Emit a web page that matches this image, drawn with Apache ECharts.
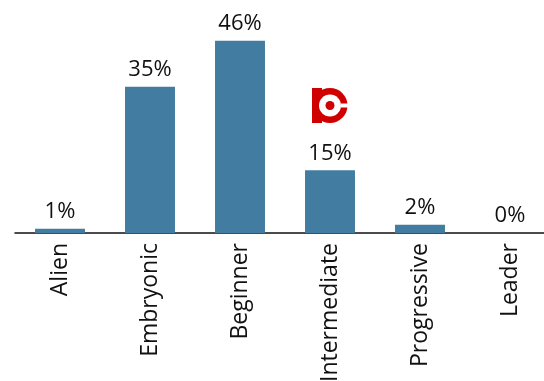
<!DOCTYPE html>
<html><head><meta charset="utf-8">
<script src="https://cdn.jsdelivr.net/npm/echarts@6/dist/echarts.min.js"></script>
<style>html,body{margin:0;padding:0;background:#fff}#c{width:544px;height:381px}</style>
</head><body><div id="c"></div>
<script>
const categories = ['Alien','Embryonic','Beginner','Intermediate','Progressive','Leader'];
const values = [1, 35, 46, 15, 2, 0];
const chart = echarts.init(document.getElementById('c'), null, {renderer:'canvas'});
chart.setOption({
  animation:false,
  grid:{left:15, top:24, width:540, height:209, containLabel:false, outerBoundsMode:'none'},
  xAxis:{type:'category', data:categories,
    axisLine:{lineStyle:{color:'#111', width:1.5}},
    axisTick:{show:false},
    axisLabel:{rotate:90, interval:0, color:'#111', fontSize:23, fontFamily:'Open Sans', margin:10}},
  yAxis:{type:'value', min:0, max:50, show:false, splitLine:{show:false}},
  series:[{type:'bar', data:values, barWidth:'55.5%',
    itemStyle:{color:'#427ca1'},
    label:{show:true, position:'top', distance:6, formatter:'{c}%', color:'#111', fontSize:22, fontFamily:'Open Sans'}}],
  graphic:[
    {type:'circle', shape:{cx:330, cy:105.5, r:17.5}, style:{fill:'#d00000'}},
    {type:'rect', shape:{x:312, y:88, width:10, height:35}, style:{fill:'#d00000'}},
    {type:'circle', shape:{cx:330, cy:105.5, r:11}, style:{fill:'#fff'}},
    {type:'rect', shape:{x:341, y:103.5, width:8, height:4}, style:{fill:'#fff'}},
    {type:'circle', shape:{cx:330, cy:105.5, r:4.5}, style:{fill:'#d00000'}}
  ]
});
</script></body></html>
